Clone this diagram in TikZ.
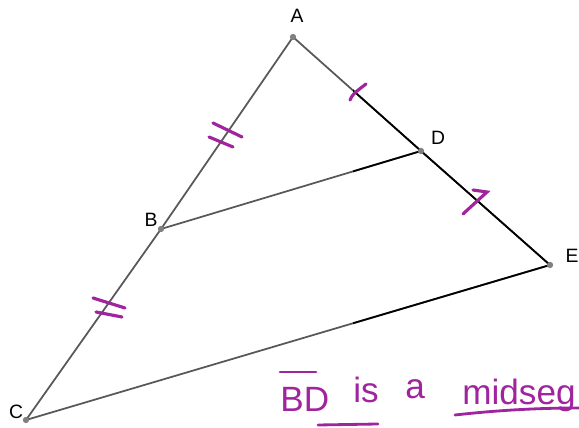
\documentclass[tikz,border=0pt]{standalone}
\usepackage{fontspec}
\setmainfont{Liberation Sans}
\definecolor{inkpurple}{HTML}{A0249E}
\definecolor{softline}{HTML}{585858}

\begin{document}
\begin{tikzpicture}[
  x=0.02cm, y=-0.02cm,
  every node/.style={font=\fontsize{11}{13}\selectfont},
  seg/.style={line width=1pt, softline},
  sharpseg/.style={line width=1pt, black},
  dot/.style={fill=gray},
  tick/.style={inkpurple, line width=1.8pt, line cap=round},
  hand/.style={inkpurple, font=\fontsize{20}{24}\selectfont, inner sep=0pt, anchor=base west},
  handline/.style={inkpurple, line width=1.6pt, line cap=round},
]
\useasboundingbox (0,0) rectangle (579,428);
\clip (0,0) rectangle (579,428);

% points
\coordinate (A) at (293,37);
\coordinate (B) at (161,229);
\coordinate (C) at (26,420);
\coordinate (D) at (421,151);
\coordinate (E) at (550,265);

% sides, soft on the left, sharp on the right
\draw[seg] (A) -- (B) -- (C) -- (E) -- (D) -- (A);
\draw[seg] (B) -- (D);
\begin{scope}
  \clip (353,0) rectangle (579,428);
  \draw[sharpseg] (A) -- (B) -- (C) -- (E) -- (D) -- (A);
  \draw[sharpseg] (B) -- (D);
\end{scope}

\foreach \p in {A,B,C,D,E}
  \fill[dot] (\p) circle (1.8pt);

% labels
\node (labA) at (297,16) {A};
\node (labB) at (151,220) {B};
\node (labC) at (16,412) {C};
\node (labD) at (438,138) {D};
\node (labE) at (572,256) {E};

% tick marks
\draw[tick] (213,123) -- (242,137);
\draw[tick] (209,137) -- (233,147);
\draw[tick] (93,298) -- (125,308);
\draw[tick] (96,312) -- (122,317);
\draw[tick] (350,100) .. controls (353,94) .. (366,84);
\draw[tick] (473,190) -- (487,192) -- (463,214);

% note
\node[hand] (wBD) at (280,412) {BD};
\node[hand] (wis) at (353,403) {is};
\node[hand] (wa) at (405,399) {a};
\node[hand] (wmid) at (462,405) {midseg};
\draw[handline] (280,372) -- (316,372);
\draw[handline] (318,425) -- (378,424);
\draw[handline] (455,415) .. controls (500,410) and (540,408) .. (579,408);
\end{tikzpicture}
\end{document}
